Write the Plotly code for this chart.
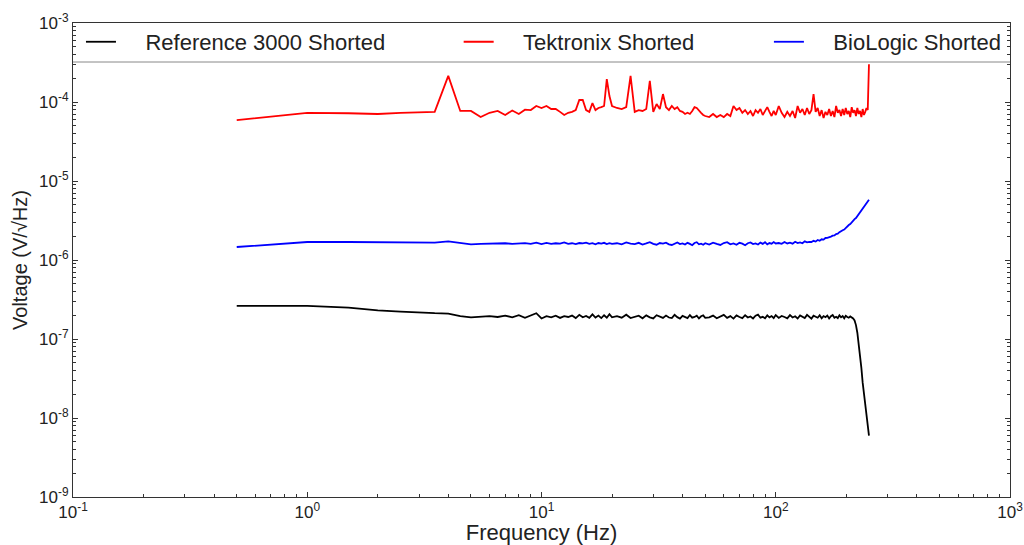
import plotly.graph_objects as go

# Frequency grid (Hz)
freq_hz = [0.5, 1.0, 1.5, 2.0, 2.5, 3.0, 3.5, 4.0, 4.5, 5.0,
           5.5, 6.0, 6.5, 7.0, 7.5, 8.0, 8.5, 9.0, 9.5, 10.0,
           10.5, 11.0, 11.5, 12.0, 12.5, 13.0, 13.5, 14.0, 14.5, 15.0,
           15.5, 16.0, 16.5, 17.0, 17.5, 18.0, 18.5, 19.0, 19.5, 20.0,
           21, 22, 23, 24, 25, 26, 27, 28, 29, 30,
           31, 32, 33, 34, 35, 36, 37, 38, 39, 40,
           41, 42, 43, 44, 45, 46, 47, 48, 49, 50,
           52, 54, 56, 58, 60, 62, 64, 66, 68, 70,
           72, 74, 76, 78, 80, 82, 84, 86, 88, 90,
           92, 94, 96, 98, 100,
           103, 106, 109, 112, 115, 118, 121, 124, 127, 130,
           133, 136, 139, 142, 145, 148, 151, 154, 157, 160,
           163, 166, 169, 172, 175, 178, 181, 184, 187, 190,
           193, 196, 199, 202, 205, 208, 211, 214, 217, 220,
           223, 226, 229, 232, 235, 238, 241, 244, 247, 250]

# Reference 3000 Shorted (V/sqrt(Hz))
ref3000 = [2.62e-7, 2.62e-7, 2.50e-7, 2.30e-7, 2.22e-7, 2.15e-7, 2.12e-7, 2.10e-7, 1.95e-7, 1.88e-7,
           1.90e-7, 1.95e-7, 1.90e-7, 1.98e-7, 1.88e-7, 2.00e-7, 1.85e-7, 1.97e-7, 2.12e-7, 1.82e-7,
           1.95e-7, 1.88e-7, 1.97e-7, 1.85e-7, 1.95e-7, 1.90e-7, 1.98e-7, 1.84e-7, 2.02e-7, 1.88e-7,
           1.96e-7, 1.85e-7, 2.05e-7, 1.87e-7, 1.98e-7, 1.84e-7, 2.00e-7, 1.86e-7, 2.06e-7, 1.88e-7,
           1.95e-7, 1.86e-7, 2.03e-7, 1.84e-7, 1.90e-7, 1.97e-7, 1.83e-7, 1.99e-7, 1.88e-7, 1.82e-7,
           2.00e-7, 1.93e-7, 1.85e-7, 1.98e-7, 1.87e-7, 1.84e-7, 2.02e-7, 1.89e-7, 1.81e-7, 1.96e-7,
           1.92e-7, 1.84e-7, 2.01e-7, 1.86e-7, 1.90e-7, 1.97e-7, 1.82e-7, 1.94e-7, 1.99e-7, 1.85e-7,
           1.88e-7, 1.98e-7, 1.83e-7, 1.92e-7, 2.02e-7, 1.85e-7, 1.95e-7, 1.81e-7, 1.99e-7, 1.90e-7,
           1.84e-7, 2.00e-7, 1.87e-7, 1.93e-7, 1.82e-7, 1.97e-7, 2.03e-7, 1.86e-7, 1.91e-7, 1.83e-7,
           1.99e-7, 1.88e-7, 1.95e-7, 1.84e-7, 2.01e-7,
           1.85e-7, 1.96e-7, 1.90e-7, 1.83e-7, 2.01e-7, 1.87e-7, 1.94e-7, 1.82e-7, 1.99e-7, 1.92e-7,
           1.84e-7, 2.02e-7, 1.88e-7, 1.81e-7, 1.97e-7, 1.93e-7, 1.86e-7, 2.00e-7, 1.83e-7, 1.95e-7,
           1.89e-7, 1.98e-7, 1.82e-7, 1.94e-7, 2.01e-7, 1.86e-7, 1.91e-7, 1.84e-7, 1.99e-7, 1.88e-7,
           1.95e-7, 1.83e-7, 1.97e-7, 1.90e-7, 1.86e-7, 1.93e-7, 1.88e-7, 1.82e-7, 1.72e-7, 1.50e-7,
           1.20e-7, 8.9e-8, 6.5e-8, 4.3e-8, 2.8e-8, 2.0e-8, 1.45e-8, 1.05e-8, 8.0e-9, 6.0e-9]

# Tektronix Shorted (V/sqrt(Hz))
tektronix = [5.9e-5, 7.3e-5, 7.2e-5, 7.05e-5, 7.3e-5, 7.4e-5, 7.5e-5, 2.14e-4, 7.7e-5, 7.7e-5,
             6.45e-5, 7.3e-5, 7.7e-5, 6.85e-5, 7.8e-5, 7.05e-5, 8.0e-5, 7.9e-5, 8.9e-5, 8.4e-5,
             8.9e-5, 8.15e-5, 8.15e-5, 7.5e-5, 6.85e-5, 7.3e-5, 7.5e-5, 7.9e-5, 1.06e-4, 1.06e-4,
             7.9e-5, 7.5e-5, 9.7e-5, 7.9e-5, 8.4e-5, 8.6e-5, 8.9e-5, 1.95e-4, 1.19e-4, 8.9e-5,
             8.4e-5, 8.15e-5, 8.6e-5, 2.14e-4, 7.5e-5, 7.9e-5, 7.7e-5, 8.15e-5, 1.85e-4, 7.5e-5,
             9.4e-5, 8.15e-5, 1.26e-4, 8.6e-5, 7.9e-5, 8.9e-5, 8.15e-5, 8.6e-5, 7.7e-5, 7.5e-5,
             7.05e-5, 7.3e-5, 7.05e-5, 7.7e-5, 8.6e-5, 8.4e-5, 7.7e-5, 7.3e-5, 6.85e-5, 6.65e-5,
             6.45e-5, 7.05e-5, 6.45e-5, 6.85e-5, 6.45e-5, 7.05e-5, 6.65e-5, 8.9e-5, 7.9e-5, 8.4e-5,
             7.3e-5, 7.9e-5, 7.05e-5, 7.7e-5, 6.65e-5, 7.9e-5, 7.3e-5, 8.15e-5, 6.85e-5, 7.7e-5,
             8.6e-5, 7.5e-5, 6.65e-5, 7.7e-5, 6.85e-5,
             8.9e-5, 7.3e-5, 6.45e-5, 7.5e-5, 6.65e-5, 7.7e-5, 6.27e-5, 8.9e-5, 7.3e-5, 8.15e-5,
             6.85e-5, 8.4e-5, 7.05e-5, 7.9e-5, 1.26e-4, 7.5e-5, 8.4e-5, 6.65e-5, 7.9e-5, 6.27e-5,
             7.5e-5, 6.85e-5, 8.15e-5, 6.65e-5, 7.7e-5, 6.45e-5, 8.9e-5, 7.3e-5, 7.9e-5, 6.65e-5,
             8.15e-5, 6.85e-5, 8.4e-5, 7.05e-5, 7.7e-5, 6.45e-5, 8.6e-5, 7.3e-5, 7.9e-5, 6.65e-5,
             8.4e-5, 7.05e-5, 7.7e-5, 6.45e-5, 8.15e-5, 6.85e-5, 7.5e-5, 8.4e-5, 7.9e-5, 3.0e-4]

# BioLogic Shorted (V/sqrt(Hz))
biologic = [1.46e-6, 1.69e-6, 1.69e-6, 1.68e-6, 1.67e-6, 1.67e-6, 1.66e-6, 1.72e-6, 1.64e-6, 1.58e-6,
            1.60e-6, 1.62e-6, 1.61e-6, 1.63e-6, 1.60e-6, 1.62e-6, 1.64e-6, 1.60e-6, 1.66e-6, 1.59e-6,
            1.65e-6, 1.60e-6, 1.63e-6, 1.61e-6, 1.67e-6, 1.60e-6, 1.63e-6, 1.59e-6, 1.64e-6, 1.62e-6,
            1.66e-6, 1.60e-6, 1.63e-6, 1.58e-6, 1.64e-6, 1.61e-6, 1.65e-6, 1.59e-6, 1.63e-6, 1.60e-6,
            1.63e-6, 1.58e-6, 1.67e-6, 1.61e-6, 1.59e-6, 1.65e-6, 1.57e-6, 1.62e-6, 1.68e-6, 1.60e-6,
            1.56e-6, 1.64e-6, 1.61e-6, 1.66e-6, 1.58e-6, 1.55e-6, 1.63e-6, 1.67e-6, 1.59e-6, 1.62e-6,
            1.57e-6, 1.65e-6, 1.60e-6, 1.54e-6, 1.64e-6, 1.68e-6, 1.58e-6, 1.61e-6, 1.56e-6, 1.63e-6,
            1.57e-6, 1.66e-6, 1.60e-6, 1.55e-6, 1.64e-6, 1.68e-6, 1.58e-6, 1.62e-6, 1.56e-6, 1.65e-6,
            1.61e-6, 1.54e-6, 1.63e-6, 1.67e-6, 1.59e-6, 1.62e-6, 1.57e-6, 1.66e-6, 1.60e-6, 1.68e-6,
            1.58e-6, 1.64e-6, 1.61e-6, 1.69e-6, 1.62e-6,
            1.64e-6, 1.60e-6, 1.69e-6, 1.62e-6, 1.66e-6, 1.61e-6, 1.70e-6, 1.64e-6, 1.67e-6, 1.63e-6,
            1.72e-6, 1.67e-6, 1.70e-6, 1.69e-6, 1.75e-6, 1.71e-6, 1.79e-6, 1.75e-6, 1.83e-6, 1.81e-6,
            1.90e-6, 1.91e-6, 1.97e-6, 1.98e-6, 2.03e-6, 2.05e-6, 2.13e-6, 2.15e-6, 2.25e-6, 2.29e-6,
            2.38e-6, 2.43e-6, 2.56e-6, 2.62e-6, 2.77e-6, 2.85e-6, 3.02e-6, 3.12e-6, 3.30e-6, 3.40e-6,
            3.60e-6, 3.75e-6, 4.05e-6, 4.20e-6, 4.52e-6, 4.75e-6, 5.08e-6, 5.28e-6, 5.58e-6, 5.80e-6]

series_names = ["Reference 3000 Shorted", "Tektronix Shorted", "BioLogic Shorted"]
series_colors = ["#000000", "#ff0000", "#0000ff"]
x_title = "Frequency (Hz)"
y_title = "Voltage (V/√Hz)"
x_tickvals = [0.1, 1, 10, 100, 1000]
x_ticktext = ["10<sup>-1</sup>", "10<sup>0</sup>", "10<sup>1</sup>", "10<sup>2</sup>", "10<sup>3</sup>"]
y_tickvals = [1e-9, 1e-8, 1e-7, 1e-6, 1e-5, 1e-4, 1e-3]
y_ticktext = ["10<sup>-9</sup>", "10<sup>-8</sup>", "10<sup>-7</sup>", "10<sup>-6</sup>",
              "10<sup>-5</sup>", "10<sup>-4</sup>", "10<sup>-3</sup>"]

# minor tick positions (digits 2..9 of each decade)
x_minor = [d * t for t in x_tickvals[:-1] for d in range(2, 10)]
y_minor = [d * t for t in y_tickvals[:-1] for d in range(2, 10)]

FONT = "Arial, 'Liberation Sans', sans-serif"
pad = "\u00a0" * 4

fig = go.Figure()
for vals, name, color, leg in zip([ref3000, tektronix, biologic], series_names, series_colors,
                                  ["legend", "legend2", "legend3"]):
    fig.add_trace(go.Scatter(x=freq_hz, y=vals, mode="lines", name=pad + name,
                             line=dict(color=color, width=1.8), legend=leg, showlegend=True))

axis_common = dict(
    type="log", showgrid=False, zeroline=False, automargin=False,
    showline=True, linecolor="#333", linewidth=1,
    ticks="inside", ticklen=5, tickcolor="#333", tickwidth=1,
    ticklabeloverflow="allow",
    tickfont=dict(size=17, color="#222", family=FONT),
)
minor_common = dict(ticks="inside", ticklen=3, tickcolor="#333", tickwidth=1, showgrid=False)

leg_common = dict(orientation="h", yanchor="middle", y=0.96, xanchor="left",
                  bgcolor="rgba(0,0,0,0)", borderwidth=0,
                  font=dict(size=22, color="#222", family=FONT))

fig.update_layout(
    width=1024, height=545,
    margin=dict(l=73, r=14, t=23, b=48),
    paper_bgcolor="white", plot_bgcolor="white",
    font=dict(family=FONT, color="#222"),
    showlegend=True,
    xaxis=dict(range=[-1, 3], mirror=True, tickvals=x_tickvals, ticktext=x_ticktext,
               minor=dict(tickvals=x_minor, **minor_common),
               title=dict(text=x_title, font=dict(size=22), standoff=4), **axis_common),
    yaxis=dict(range=[-9, -3], mirror="ticks", tickvals=y_tickvals, ticktext=y_ticktext,
               minor=dict(tickvals=y_minor, **minor_common),
               title=dict(text=y_title, font=dict(size=20), standoff=6), **axis_common),
    legend=dict(x=0.0085, **leg_common),
    legend2=dict(x=0.4116, **leg_common),
    legend3=dict(x=0.7427, **leg_common),
    shapes=[dict(type="line", xref="paper", yref="paper", x0=0, x1=1,
                 y0=(497 - 62) / 474, y1=(497 - 62) / 474,
                 line=dict(color="#888", width=1))],
)

# remove the default page margin so the 1024x545 figure fills the window exactly
fig.write_html("out.html", config={"displayModeBar": False},
               post_script="document.body.style.margin='0';document.body.style.overflow='hidden';")
